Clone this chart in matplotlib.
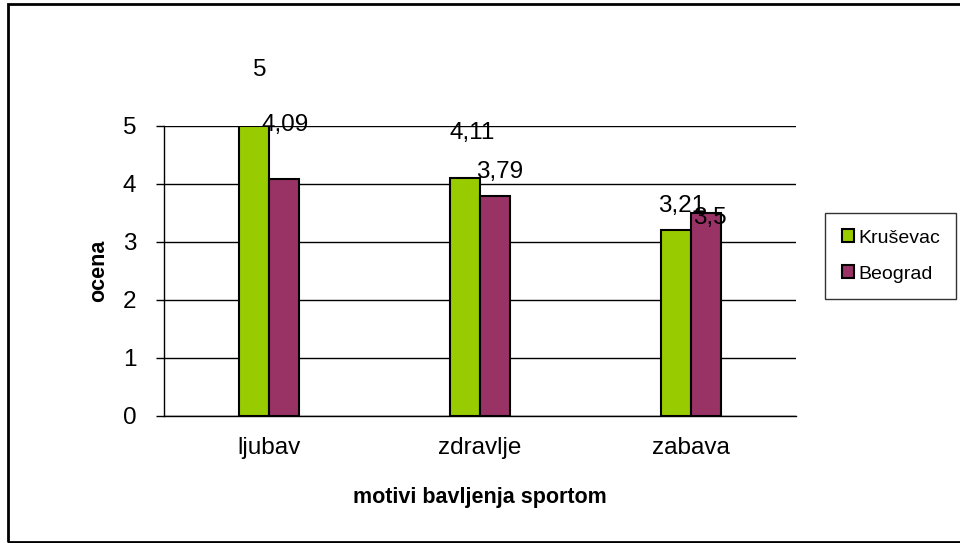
import matplotlib.pyplot as plt
from matplotlib.patches import Rectangle
import numpy as np

categories = ['ljubav', 'zdravlje', 'zabava']
krusevac = [5, 4.11, 3.21]
beograd = [4.09, 3.79, 3.5]
series_names = ['Kruševac', 'Beograd']

green = '#99CC00'
purple = '#993366'

plt.rcParams['font.family'] = ['Liberation Sans', 'DejaVu Sans']

fig = plt.figure(figsize=(9.6, 5.43), dpi=100)
ax = fig.add_axes([164 / 960, 1 - 416 / 543, 632 / 960, 290 / 543])

x = np.arange(len(categories))
w = 0.143
ax.bar(x - w / 2, krusevac, w, color=green, edgecolor='black',
       linewidth=1.5, label=series_names[0], zorder=3)
ax.bar(x + w / 2, beograd, w, color=purple, edgecolor='black',
       linewidth=1.5, label=series_names[1], zorder=3)

# data labels sit where Excel dropped them (label centre offsets in pixels)
k_offsets = [(5, 56), (7, 45), (6, 24)]
b_offsets = [(1, 54), (5, 24), (4, -5)]


def fmt(v):
    return ('%g' % v).replace('.', ',')


for xs, vals, offs in [(x - w / 2, krusevac, k_offsets),
                       (x + w / 2, beograd, b_offsets)]:
    for xi, v, off in zip(xs, vals, offs):
        ax.annotate(fmt(v), (xi, v), xytext=(off[0] * 0.72, off[1] * 0.72),
                    textcoords='offset points', ha='center', va='center',
                    fontsize=17.5, annotation_clip=False)

ax.set_xlim(-0.5, 2.5)
ax.set_ylim(0, 5)
ax.set_yticks(range(6))
ax.yaxis.grid(True, color='black', linewidth=1, zorder=0)
ax.set_xticks(x)
ax.set_xticklabels(categories, fontsize=17.5)
ax.tick_params(axis='y', labelsize=17.5, length=6, width=1, pad=14)
ax.tick_params(axis='x', length=0, pad=15)

for s in ['top', 'right']:
    ax.spines[s].set_visible(False)
ax.spines['left'].set_linewidth(1)
ax.spines['bottom'].set_linewidth(1)

ax.set_ylabel('ocena', fontsize=15.5, fontweight='bold', labelpad=10)
ax.set_xlabel('motivi bavljenja sportom', fontsize=15.5, fontweight='bold',
              labelpad=20)

leg = ax.legend(loc='center left', bbox_to_anchor=(825 / 960, 1 - 256 / 543),
                bbox_transform=fig.transFigure, fontsize=14, frameon=True,
                fancybox=False, edgecolor='black', handlelength=0.65,
                handleheight=0.65, handletextpad=0.2, labelspacing=0.95,
                borderpad=0.85, borderaxespad=0)
leg.get_frame().set_linewidth(1)
for h in leg.legend_handles:
    h.set_linewidth(1.5)

fig.patches.append(Rectangle((8 / 960, 1 / 543), 1, 1 - 5 / 543,
                             transform=fig.transFigure, fill=False,
                             edgecolor='black', linewidth=2))

fig.savefig('out.png', dpi=100)
